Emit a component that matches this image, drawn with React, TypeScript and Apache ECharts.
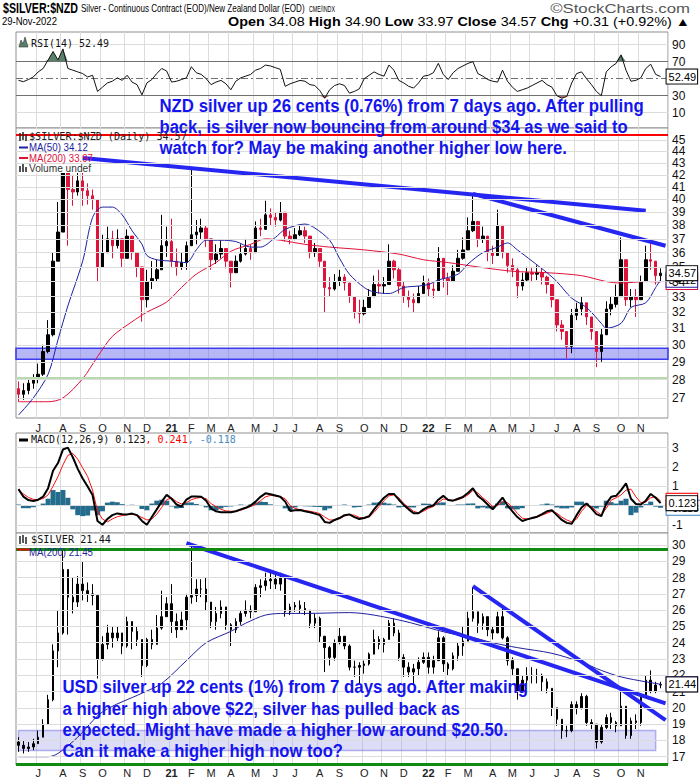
import React, { useEffect, useRef } from "react";
import * as echarts from "echarts";

// ---------- categories: one slot per trading week (Monday dates), plus one blank slot at the right edge ----------
const firstMonday = "2020-06-01";
const weekSlots = 132;

// ---------- NZD silver ($SILVER:$NZD) weekly values ----------
const nzdFirstOpen = 27.5;
const nzdClose = [
  27.2, 27.4, 27.8, 28.0, 28.3, 29.6, 30.6, 35.4, 37.5, 42.8,
  40.8, 40.6, 41.5, 40.7, 40.3, 40.0, 35.0, 36.0, 37.0, 36.5,
  37.0, 35.6, 37.2, 36.0, 35.0, 32.8, 34.0, 34.2, 34.8, 36.5,
  36.8, 35.4, 35.0, 35.3, 36.5, 37.3, 37.5, 37.8, 37.0, 35.5,
  35.9, 36.3, 35.4, 34.6, 35.4, 35.9, 36.3, 36.0, 37.8, 37.7,
  38.8, 38.6, 38.4, 39.0, 37.2, 37.0, 37.3, 37.6, 37.2, 36.0,
  36.3, 35.4, 33.6, 33.5, 34.0, 34.3, 33.9, 33.0, 32.0, 31.9,
  32.3, 33.0, 33.8, 33.7, 33.8, 35.4, 34.8, 33.7, 33.0, 32.8,
  32.6, 33.2, 33.9, 33.5, 33.4, 35.6, 34.2, 34.0, 34.7, 35.6,
  36.2, 37.6, 38.3, 37.0, 37.2, 36.0, 35.8, 38.0, 36.0, 35.1,
  34.8, 33.7, 34.1, 34.6, 34.5, 34.6, 34.3, 33.8, 32.8, 31.2,
  30.8, 29.9, 31.8, 32.2, 32.6, 31.7, 30.8, 29.6, 30.6, 32.2,
  32.5, 33.0, 35.5, 32.8, 33.0, 32.8, 34.0, 35.5, 35.4, 34.4,
  34.57,
];
const nzdHigh = [
  27.9, 27.8, 28.1, 28.3, 28.9, 30.0, 31.5, 36.0, 39.8, 44.6,
  43.5, 42.0, 42.5, 42.8, 41.3, 40.8, 39.5, 37.3, 37.9, 37.6,
  37.7, 36.5, 37.7, 37.0, 36.0, 34.5, 34.8, 35.4, 35.5, 38.8,
  37.9, 38.5, 36.3, 36.0, 36.8, 42.5, 38.4, 38.5, 38.0, 36.8,
  36.6, 36.9, 36.3, 35.4, 35.8, 36.6, 37.0, 36.6, 38.3, 38.5,
  39.9, 39.3, 39.0, 39.8, 38.6, 37.6, 37.8, 38.0, 37.9, 36.8,
  36.7, 36.0, 34.7, 34.3, 34.5, 34.8, 34.5, 33.7, 32.8, 32.8,
  32.8, 33.5, 34.4, 34.8, 34.3, 36.6, 35.5, 35.0, 34.0, 33.4,
  33.2, 33.7, 34.4, 34.2, 33.9, 36.4, 35.3, 34.6, 35.1, 36.2,
  37.1, 38.6, 40.3, 38.0, 37.9, 36.8, 36.5, 39.2, 37.5, 36.0,
  35.6, 35.0, 34.6, 35.0, 35.0, 35.1, 34.9, 34.4, 33.8, 32.0,
  31.5, 30.5, 32.2, 32.6, 33.0, 32.6, 31.5, 30.6, 31.0, 32.7,
  33.0, 33.8, 37.1, 35.4, 33.5, 33.5, 34.4, 36.5, 36.8, 35.3,
  34.9,
];
const nzdLow = [
  26.8, 26.9, 27.2, 27.5, 27.8, 28.2, 29.5, 30.5, 36.0, 37.5,
  36.5, 39.5, 40.3, 39.5, 39.6, 39.2, 34.0, 35.0, 36.2, 35.6,
  36.3, 35.0, 36.0, 35.5, 34.3, 31.4, 32.3, 33.5, 34.0, 35.0,
  35.7, 35.0, 34.4, 34.8, 34.8, 36.5, 36.6, 37.0, 36.4, 34.8,
  35.2, 35.6, 34.9, 33.6, 34.6, 35.3, 35.8, 35.5, 36.8, 37.2,
  38.2, 38.0, 37.9, 38.3, 36.8, 36.6, 36.9, 37.2, 36.7, 35.6,
  35.7, 35.0, 32.0, 33.0, 33.4, 33.7, 33.4, 32.6, 31.6, 31.3,
  31.8, 32.5, 33.2, 33.2, 33.2, 34.6, 34.2, 33.2, 32.6, 32.3,
  32.0, 32.6, 33.4, 33.0, 32.9, 33.8, 33.6, 33.1, 34.0, 35.0,
  35.5, 36.8, 37.5, 36.4, 36.7, 35.4, 35.2, 36.8, 35.6, 34.6,
  34.3, 32.9, 33.4, 34.0, 34.0, 34.1, 33.8, 33.2, 32.3, 30.8,
  30.3, 29.2, 29.5, 31.5, 31.8, 31.2, 30.3, 28.7, 29.0, 31.2,
  31.8, 32.3, 33.2, 32.4, 32.3, 31.7, 33.0, 34.3, 34.8, 33.8,
  33.97,
];
// moving averages read at selected weeks: [week index, value]
const nzdMa50 = [
  [0, 26.1], [3, 27.0], [6, 28.3], [8, 30.3], [10, 32.4], [13, 35.4], [15, 38.6], [17, 39.4], [19, 39.4],
  [21, 38.8], [23, 37.6], [25, 36.6], [26, 35.8], [28, 35.5], [31, 35.4], [34, 35.3], [36, 36.2], [38, 36.9],
  [41, 36.9], [44, 36.8], [47, 36.4], [49, 36.4], [52, 37.1], [54, 37.7], [58, 38.1], [60, 37.8], [63, 36.9],
  [65, 35.6], [67, 34.5], [70, 33.6], [72, 33.3], [75, 33.2], [78, 33.6], [81, 33.7], [83, 33.8], [85, 34.1],
  [89, 34.5], [91, 35.2], [94, 36.0], [97, 36.4], [99, 36.7], [101, 36.2], [104, 35.4], [107, 34.6], [109, 34.0],
  [112, 32.9], [115, 32.3], [118, 31.3], [119, 31.0], [122, 31.3], [124, 32.3], [127, 32.6], [129, 33.6], [130, 34.12],
];
const nzdMa200 = [
  [0, 26.8], [6, 26.8], [9, 27.0], [13, 28.05], [16, 29.3], [19, 30.5], [23, 31.4], [26, 32.0], [30, 32.65],
  [33, 33.6], [36, 34.5], [40, 35.3], [43, 36.1], [47, 36.6], [50, 37.0], [53, 36.9], [58, 36.6], [63, 36.4],
  [70, 36.2], [77, 35.9], [82, 35.5], [87, 35.3], [93, 35.0], [100, 34.7], [107, 34.6], [114, 34.4], [119, 34.0],
  [122, 33.9], [127, 34.0], [130, 33.97],
];
const nzdTrendA = [[13, 43.42], [127, 39.12]];
const nzdTrendB = [[92, 40.44], [131, 36.5]];
const nzdTicks = [27, 28, 29, 30, 31, 32, 33, 34, 35, 36, 37, 38, 39, 40, 41, 42, 43, 44, 45];
const nzdBand = [29.15, 29.8];
const nzdGreenLevel = 28.1;
const nzdRedLevel = 45.45;

// ---------- RSI(14) ----------
const rsi = [
  48, 46.5, 49, 52, 58, 62, 72, 82, 72, 85,
  62, 60, 58, 56, 52, 54, 35, 40, 45, 47,
  51, 48, 54, 46, 43, 31, 45, 49, 56, 62,
  59, 46, 47, 49, 51, 64, 57, 55, 50, 43,
  46, 48, 44, 37, 47, 51, 53, 55, 60, 62,
  66, 65, 63, 61, 41, 44, 46, 48, 47, 43,
  42, 36, 27, 37, 42, 44, 42, 33, 35, 38,
  50, 54, 58, 55, 53, 66, 60, 48, 45, 41,
  39, 45, 53, 54, 57, 68, 55, 49, 57, 62,
  65, 68, 70, 56, 53, 49, 47, 46, 60, 47,
  40, 35, 37, 39, 42, 45, 48, 43, 40, 30,
  27, 29, 45, 56, 58, 50, 43, 35, 30, 58,
  64, 68, 78, 60, 47, 48, 51, 62, 67, 55,
  52.49,
];
const rsiTicks = [90, 70, 50, 30, 10];

// ---------- MACD(12,26,9) ----------
const macd = [
  0.85, 0.46, 0.28, 0.23, 0.3, 0.46, 0.9, 1.8, 2.2, 2.9,
  3.0, 2.5, 1.9, 1.4, 0.98, 0.54, -0.8, -1.0, -0.7, -0.5,
  -0.41, -0.45, -0.46, -0.42, -0.5, -0.8, -1.0, -0.6, -0.2, 0.2,
  0.55, 0.35, 0.05, -0.05, 0.3, 0.46, 0.46, 0.45, 0.25, -0.15,
  -0.3, -0.35, -0.35, -0.35, -0.3, -0.2, -0.12, 0.0, 0.2, 0.45,
  0.63, 0.58, 0.52, 0.45, 0.2, -0.28, -0.25, -0.23, -0.3, -0.35,
  -0.42, -0.5, -0.85, -0.9, -0.75, -0.65, -0.5, -0.46, -0.6, -0.7,
  -0.65, -0.55, -0.2, 0.11, 0.4, 0.6, 0.6, 0.3, 0.03, -0.2,
  -0.4, -0.4, -0.2, -0.06, 0.0, 0.3, 0.5, 0.28, 0.25, 0.35,
  0.45, 0.65, 0.89, 0.5, 0.3, 0.05, -0.2, 0.1, 0.41, 0.0,
  -0.3, -0.6, -0.8, -0.72, -0.65, -0.58, -0.45, -0.3, -0.25, -0.5,
  -0.75, -0.9, -0.95, -0.5, -0.1, 0.1, -0.15, -0.45, -0.55, 0.1,
  0.45, 0.5, 0.8, 1.15, 0.35, 0.08, 0.05, 0.25, 0.6, 0.4,
  0.123,
];
const macdSignal = [
  0.8, 0.6, 0.42, 0.32, 0.3, 0.36, 0.55, 1.0, 1.5, 2.1,
  2.6, 2.7, 2.4, 1.95, 1.5, 0.8, -0.3, -0.7, -0.85, -0.7,
  -0.58, -0.52, -0.48, -0.46, -0.5, -0.62, -0.75, -0.7, -0.45, -0.1,
  0.3, 0.4, 0.2, 0.08, 0.15, 0.3, 0.38, 0.42, 0.35, 0.1,
  -0.06, -0.2, -0.28, -0.3, -0.3, -0.25, -0.15, -0.05, 0.05, 0.25,
  0.45, 0.52, 0.5, 0.46, 0.35, 0.0, -0.15, -0.22, -0.26, -0.3,
  -0.35, -0.42, -0.6, -0.75, -0.75, -0.68, -0.55, -0.48, -0.5, -0.62,
  -0.65, -0.6, -0.35, -0.05, 0.25, 0.5, 0.55, 0.4, 0.1, -0.1,
  -0.3, -0.38, -0.3, -0.15, -0.05, 0.15, 0.34, 0.3, 0.26, 0.3,
  0.4, 0.55, 0.78, 0.65, 0.4, 0.2, -0.05, 0.0, 0.2, 0.15,
  -0.1, -0.4, -0.66, -0.7, -0.66, -0.6, -0.5, -0.4, -0.3, -0.4,
  -0.6, -0.75, -0.85, -0.7, -0.3, 0.0, -0.05, -0.3, -0.49, -0.15,
  0.28, 0.4, 0.55, 0.8, 0.85, 0.45, 0.15, 0.18, 0.4, 0.46,
  0.241,
];
const macdTicks = [3, 2, 1, 0, -1];

// ---------- USD silver ($SILVER) weekly values ----------
const usdFirstOpen = 17.9;
const usdClose = [
  17.7, 17.5, 17.6, 17.8, 18.2, 19.0, 20.5, 23.5, 24.6, 28.5,
  26.8, 26.5, 27.6, 27.2, 27.0, 26.9, 23.0, 23.9, 24.6, 24.3,
  24.6, 23.8, 25.3, 24.7, 24.2, 22.6, 24.2, 23.9, 24.9, 25.6,
  26.4, 25.3, 24.8, 25.4, 26.8, 26.9, 27.3, 27.3, 26.5, 25.3,
  25.8, 26.2, 25.1, 24.8, 25.3, 25.8, 26.0, 25.9, 27.4, 27.5,
  27.8, 27.9, 27.6, 28.0, 25.9, 26.2, 26.3, 26.1, 26.0, 25.2,
  25.5, 24.4, 23.7, 23.1, 24.0, 24.4, 23.8, 22.5, 22.5, 22.6,
  22.7, 23.3, 24.2, 23.9, 24.2, 25.2, 24.6, 23.1, 22.5, 22.2,
  22.4, 22.8, 23.1, 22.5, 22.9, 24.3, 22.7, 22.4, 23.2, 23.8,
  24.1, 25.5, 25.9, 25.2, 25.6, 24.8, 24.6, 25.6, 24.3, 22.9,
  22.4, 21.0, 21.7, 22.0, 22.0, 22.0, 21.6, 21.2, 20.0, 19.3,
  18.6, 18.6, 20.2, 20.0, 20.7, 19.1, 19.0, 17.9, 18.8, 19.4,
  19.1, 18.9, 20.1, 18.3, 19.2, 19.1, 20.8, 21.7, 21.0, 21.4,
  21.44,
];
const usdHigh = [
  18.2, 18.0, 17.9, 18.1, 18.6, 19.3, 20.8, 23.9, 26.0, 29.8,
  28.5, 28.0, 28.1, 29.0, 27.7, 27.6, 26.6, 24.4, 25.1, 25.0,
  25.0, 24.6, 25.6, 25.3, 25.0, 24.2, 24.3, 24.8, 25.7, 27.2,
  26.8, 27.6, 25.8, 25.9, 27.0, 30.1, 27.9, 27.9, 28.0, 26.5,
  26.2, 26.6, 26.2, 25.2, 25.5, 26.0, 26.6, 26.3, 27.6, 27.9,
  28.3, 28.3, 28.2, 28.3, 28.0, 26.4, 26.5, 26.6, 26.5, 25.9,
  25.8, 25.6, 24.0, 23.8, 24.2, 24.9, 24.4, 23.9, 22.9, 22.8,
  22.9, 23.4, 24.8, 24.4, 24.3, 25.4, 25.5, 24.8, 23.3, 22.8,
  22.7, 23.1, 23.4, 23.4, 23.2, 24.7, 24.4, 22.8, 23.4, 24.0,
  25.0, 25.9, 27.4, 25.9, 25.8, 25.6, 25.0, 25.9, 26.2, 24.4,
  23.1, 22.3, 22.0, 22.5, 22.5, 22.4, 22.1, 21.8, 21.1, 19.9,
  19.2, 18.9, 20.4, 20.4, 20.9, 20.8, 19.3, 18.9, 19.0, 19.6,
  19.7, 19.2, 21.2, 20.0, 19.4, 19.6, 20.9, 22.0, 22.3, 21.6,
  21.6,
];
const usdLow = [
  17.3, 17.2, 17.3, 17.4, 17.8, 18.2, 19.1, 20.4, 22.5, 24.5,
  24.5, 25.8, 26.2, 26.6, 26.5, 26.3, 21.8, 22.9, 23.6, 23.7,
  24.1, 23.3, 23.7, 23.6, 23.8, 21.9, 22.5, 23.6, 24.0, 24.8,
  25.6, 24.6, 24.3, 24.8, 24.8, 26.4, 26.5, 26.8, 26.0, 24.9,
  24.8, 25.5, 24.8, 23.8, 24.6, 25.1, 25.6, 25.5, 26.0, 26.8,
  27.2, 27.3, 27.3, 27.2, 25.6, 25.7, 25.9, 25.8, 25.7, 24.9,
  24.9, 24.0, 22.2, 22.6, 22.9, 23.9, 23.6, 22.3, 21.9, 21.5,
  22.1, 22.6, 23.4, 23.6, 23.4, 24.3, 24.4, 22.9, 21.9, 21.9,
  21.4, 22.0, 22.7, 22.1, 22.1, 22.9, 22.2, 22.0, 22.3, 22.9,
  23.2, 24.1, 25.3, 24.6, 24.8, 24.4, 24.2, 24.6, 24.2, 22.6,
  22.0, 20.5, 21.0, 21.5, 21.5, 21.5, 21.0, 20.9, 19.5, 18.9,
  18.1, 18.2, 18.5, 19.6, 19.9, 18.9, 18.7, 17.5, 17.8, 18.7,
  18.7, 18.5, 19.0, 18.1, 18.1, 18.7, 18.9, 20.9, 20.9, 20.9,
  21.2,
];
const usdMa200 = [
  [0, 17.0], [6, 17.0], [8, 17.2], [12, 18.2], [17, 19.75], [25, 20.9], [29, 21.5], [34, 22.9], [38, 24.0],
  [43, 24.7], [46, 25.2], [50, 25.7], [54, 25.8], [58, 25.8], [67, 25.85], [77, 25.4], [87, 24.6], [91, 24.4],
  [96, 24.0], [101, 23.7], [108, 23.35], [114, 22.8], [118, 22.3], [122, 21.9], [127, 21.6], [130, 21.45],
];
const usdTrendC = [[34, 30.11], [131, 20.28]];
const usdTrendD = [[92, 27.48], [131, 19.24]];
const usdTicks = [17, 18, 19, 20, 21, 22, 23, 24, 25, 26, 27, 28, 29, 30];
const usdBand = [17.38, 18.61];
const usdGreenTop = 29.75;
const usdGreenBottom = 16.52;

// ---------- texts ----------
const noteNzd = [
  "NZD silver up 26 cents (0.76%) from 7 days ago. After pulling",
  "back, is silver now bouncing from around $34 as we said to",
  "watch for? May be making another higher low here.",
];
const noteUsd = [
  "USD silver up 22 cents (1%) from 7 days ago. After making",
  "a higher high above $22, silver has pulled back as",
  "expected. Might have made a higher low around $20.50.",
  "Can it make a higher high now too?",
];
const quoteLine: [string, boolean][] = [
  ["Open", true], [" 34.08 ", false], ["High", true], [" 34.90 ", false], ["Low", true], [" 33.97 ", false],
  ["Close", true], [" 34.57 ", false], ["Chg", true], [" +0.31 (+0.92%) \u25B2", false],
];
const monthLetters = "JFMAMJJASOND";

const sans = '"Liberation Sans", Arial, Helvetica, sans-serif';
const mono = '"DejaVu Sans Mono", "Liberation Mono", monospace';

// ---------- helpers ----------
const DAY = 86400000;
const weekDates: string[] = [];
{
  const t0 = Date.parse(firstMonday + "T00:00:00Z");
  for (let i = 0; i < weekSlots; i++) weekDates.push(new Date(t0 + i * 7 * DAY).toISOString().slice(0, 10));
}
const lastDataWeek = nzdClose.length - 1;
const thursday = (ds: string) => new Date(Date.parse(ds + "T00:00:00Z") + 3 * DAY);
// the last week holds only 28-29 Nov, so it does not open a new month
const monthStart = weekDates.map(
  (d, i) => i > 0 && i < lastDataWeek && thursday(d).getUTCMonth() !== thursday(weekDates[i - 1]).getUTCMonth()
);
const monthLabel = (ds: string) => {
  const t = thursday(ds);
  const m = t.getUTCMonth();
  return m === 0 ? `{y|${String(t.getUTCFullYear()).slice(2)}}` : monthLetters[m];
};

const ohlc = (close: number[], high: number[], low: number[], firstOpen: number) =>
  close.map((c, i) => {
    const o = i === 0 ? firstOpen : close[i - 1];
    return [o, c, Math.min(low[i], o, c), Math.max(high[i], o, c)];
  });

let measureCtx: CanvasRenderingContext2D | null = null;
const tw = (text: string, font: string) => {
  if (!measureCtx) measureCtx = document.createElement("canvas").getContext("2d");
  measureCtx!.font = font;
  return measureCtx!.measureText(text).width;
};

const fitText = (x: number, y: number, text: string, font: string, width: number, fill: string, align = "left", z = 20) => ({
  type: "text",
  x,
  y,
  z,
  scaleX: width / tw(text, font),
  silent: true,
  style: { text, font, fill, align, verticalAlign: "middle", textAlign: align, textVerticalAlign: "middle" },
});

const fitRich = (x: number, y: number, segs: { t: string; font: string; fill: string }[], width: number, align = "left", z = 20) => {
  const rich: any = {};
  let total = 0;
  const text = segs
    .map((s, i) => {
      rich["s" + i] = { font: s.font, fill: s.fill };
      total += tw(s.t, s.font);
      return `{s${i}|${s.t}}`;
    })
    .join("");
  return {
    type: "text",
    x,
    y,
    z,
    scaleX: width / total,
    silent: true,
    style: { text, rich, align, verticalAlign: "middle", textAlign: align, textVerticalAlign: "middle" },
  };
};

const tickMarks = (ticks: number[], special: (v: number) => any = () => ({})) =>
  ticks.map((v) => ({
    yAxis: v,
    lineStyle: { color: "#dcdcdc", width: 1, type: "solid", ...special(v) },
    label: { show: true, position: "end", formatter: String(v), distance: 4, color: "#111", fontSize: 12, fontFamily: sans },
  }));

const valueBox = (border: string, decimals: number) => ({
  show: true,
  distance: 6,
  formatter: (p: any) => Number(Array.isArray(p.value) ? p.value[1] : p.value).toFixed(decimals),
  backgroundColor: "#fff",
  borderColor: border,
  borderWidth: 1,
  padding: [2, 1, 1, 2],
  color: "#000",
  fontSize: 11,
  fontFamily: sans,
});

const plainLine = (xi: number, data: any, color: string, width: number, extra: any = {}) => ({
  type: "line",
  xAxisIndex: xi,
  yAxisIndex: xi,
  data,
  symbol: "none",
  silent: true,
  lineStyle: { color, width },
  ...extra,
});

export default function App() {
  const ref = useRef<HTMLDivElement>(null);

  useEffect(() => {
    if (!ref.current) return;
    const chart = echarts.init(ref.current, null, { renderer: "svg" });

    const gridBox = { left: 16, width: 652, show: true, backgroundColor: "#fff", borderColor: "#8e8e8e", borderWidth: 1 };
    const xAxisFor = (gridIndex: number, showLabels: boolean, margin: number) => ({
      type: "category",
      gridIndex,
      data: weekDates,
      boundaryGap: true,
      axisLine: { show: false },
      axisTick: { show: false },
      axisLabel: {
        show: showLabels,
        interval: (i: number) => monthStart[i],
        formatter: (v: string) => monthLabel(v),
        fontSize: 11,
        fontFamily: sans,
        color: "#222",
        margin,
        rich: { y: { fontWeight: "bold", fontSize: 11, fontFamily: sans, color: "#222" } },
      },
      splitLine: { show: true, interval: (i: number) => monthStart[i], lineStyle: { color: "#dcdcdc", width: 1 } },
    });
    const hiddenY = { axisLabel: { show: false }, splitLine: { show: false }, axisLine: { show: false }, axisTick: { show: false } };

    const hist = macd.map((v, i) => +(v - macdSignal[i]).toFixed(3));

    const series: any[] = [
      // ----- RSI -----
      plainLine(0, rsi.map(() => 70), "transparent", 0, { stack: "hi", lineStyle: { opacity: 0 } }),
      plainLine(0, rsi.map((v) => Math.max(v - 70, 0)), "transparent", 0, {
        stack: "hi",
        lineStyle: { opacity: 0 },
        areaStyle: { color: "#5a7f6a", opacity: 1 },
      }),
      plainLine(0, rsi.map((v) => Math.min(v, 30)), "transparent", 0, { stack: "lo", lineStyle: { opacity: 0 } }),
      plainLine(0, rsi.map((v) => 30 - Math.min(v, 30)), "transparent", 0, {
        stack: "lo",
        lineStyle: { opacity: 0 },
        areaStyle: { color: "#b07272", opacity: 1 },
      }),
      plainLine(0, rsi, "#111", 1, {
        z: 5,
        endLabel: valueBox("#000", 2),
        markLine: {
          silent: true,
          symbol: ["none", "none"],
          data: tickMarks(rsiTicks, (v) =>
            v === 70 || v === 30 ? { color: "#707070" } : v === 50 ? { color: "#707070", type: [7, 3, 2, 3] } : {}
          ),
        },
      }),

      // ----- NZD price -----
      {
        type: "candlestick",
        xAxisIndex: 1,
        yAxisIndex: 1,
        data: ohlc(nzdClose, nzdHigh, nzdLow, nzdFirstOpen),
        barWidth: 3,
        silent: true,
        itemStyle: { color: "#000", color0: "#dc143c", borderColor: "#000", borderColor0: "#dc143c", borderWidth: 1 },
        markLine: {
          silent: true,
          symbol: ["none", "none"],
          data: [
            ...tickMarks(nzdTicks),
            { yAxis: nzdGreenLevel, lineStyle: { color: "#b9d9b0", width: 2, type: "solid" }, label: { show: false } },
          ],
        },
        markArea: {
          silent: true,
          itemStyle: { color: "rgba(95,95,235,0.45)", borderColor: "#3c3cf0", borderWidth: 1.5 },
          data: [[{ yAxis: nzdBand[1] }, { yAxis: nzdBand[0] }]],
        },
      },
      plainLine(1, nzdMa200, "#e0103a", 1, { smooth: 0.3, z: 3, endLabel: valueBox("#e0103a", 2) }),
      plainLine(1, nzdMa50, "#1c22a0", 1, { smooth: 0.3, z: 3, endLabel: valueBox("#1c22a0", 2) }),
      plainLine(1, nzdTrendA, "#2626f2", 4, {
        z: 4,
        markLine: {
          silent: true,
          symbol: ["none", "none"],
          data: [{ yAxis: nzdRedLevel, lineStyle: { color: "#ff0000", width: 2, type: "solid" }, label: { show: false } }],
        },
      }),
      plainLine(1, nzdTrendB, "#2626f2", 4, { z: 4 }),
      plainLine(1, nzdClose, "transparent", 0, { z: 8, lineStyle: { opacity: 0 }, endLabel: valueBox("#000", 2) }),

      // ----- MACD -----
      {
        type: "bar",
        xAxisIndex: 2,
        yAxisIndex: 2,
        data: hist,
        barWidth: 5,
        silent: true,
        itemStyle: { color: "#236c8e" },
      },
      plainLine(2, hist, "transparent", 0, { z: 5, lineStyle: { opacity: 0 }, endLabel: valueBox("#3d7fc0", 3) }),
      plainLine(2, macdSignal, "#ff1010", 1, { z: 6, endLabel: valueBox("#ff0000", 3) }),
      plainLine(2, macd, "#000", 2, {
        z: 7,
        endLabel: valueBox("#000", 3),
        markLine: { silent: true, symbol: ["none", "none"], data: tickMarks(macdTicks) },
      }),

      // ----- USD price -----
      {
        type: "candlestick",
        xAxisIndex: 3,
        yAxisIndex: 3,
        data: ohlc(usdClose, usdHigh, usdLow, usdFirstOpen),
        barWidth: 2,
        silent: true,
        itemStyle: { color: "#000", color0: "#000", borderColor: "#000", borderColor0: "#000", borderWidth: 1 },
        markLine: {
          silent: true,
          symbol: ["none", "none"],
          data: [
            ...tickMarks(usdTicks),
            { yAxis: usdGreenTop, lineStyle: { color: "#118a11", width: 3, type: "solid" }, label: { show: false } },
            { yAxis: usdGreenBottom, lineStyle: { color: "#118a11", width: 3, type: "solid" }, label: { show: false } },
          ],
        },
        markArea: {
          silent: true,
          itemStyle: { color: "rgba(150,150,232,0.32)", borderColor: "rgba(120,120,225,0.55)", borderWidth: 1.5 },
          data: [[{ xAxis: 0, yAxis: usdBand[1] }, { xAxis: 129, yAxis: usdBand[0] }]],
        },
      },
      plainLine(3, usdMa200, "#1f1f9c", 1, { smooth: 0.3, z: 3, endLabel: valueBox("#1f1f9c", 2) }),
      plainLine(3, usdTrendC, "#2626f2", 4, { z: 4 }),
      plainLine(3, usdTrendD, "#2626f2", 4, { z: 4 }),
      plainLine(3, usdClose, "transparent", 0, { z: 8, lineStyle: { opacity: 0 }, endLabel: valueBox("#000", 2) }),
    ];

    // ----- texts drawn on top -----
    const noteFont = `bold 18px ${sans}`;
    const noteColor = "#1414ee";
    const nzdRight = [645, 628, 567];
    const nzdY = [106, 127, 148];
    const usdRight = [529, 460, 508, 343];
    const usdY = [687, 709, 730, 751];
    const legend10 = `10px ${sans}`;
    const mono10 = `10px ${mono}`;

    const elements: any[] = [
      // header
      fitText(3, 8, "$SILVER:$NZD", `bold 14px ${sans}`, 75, "#000"),
      fitText(81, 8.5, "Silver - Continuous Contract (EOD)/New Zealand Dollar (EOD)", `11px ${sans}`, 224, "#000"),
      fitText(309, 9, "CME/INDX", `9px ${sans}`, 26, "#000"),
      fitText(690, 8.5, "\u00A9StockCharts.com", `12px ${sans}`, 140, "#555", "right"),
      fitText(2, 21.5, "29-Nov-2022", `11px ${sans}`, 55, "#000"),
      fitRich(
        690,
        21.5,
        quoteLine.map(([t, b]) => ({ t, font: `${b ? "bold " : ""}12px ${sans}`, fill: "#000" })),
        462,
        "right"
      ),

      // RSI legend
      { type: "polygon", z: 20, silent: true, shape: { points: [[19, 47], [21, 40], [23, 44], [25, 37], [28, 47]] }, style: { fill: "#5a7f6a", stroke: "#333", lineWidth: 0.6 } },
      fitText(31, 43, "RSI(14) 52.49", mono10, 78, "#111"),

      // NZD legend
      { type: "rect", z: 3, silent: true, shape: { x: 17, y: 129, width: 78, height: 44 }, style: { fill: "#fff" } },
      { type: "line", z: 20, silent: true, shape: { x1: 20, y1: 133, x2: 20, y2: 141 }, style: { stroke: "#222", lineWidth: 1.5 } },
      { type: "line", z: 20, silent: true, shape: { x1: 23, y1: 132, x2: 23, y2: 140 }, style: { stroke: "#222", lineWidth: 1.5 } },
      { type: "line", z: 20, silent: true, shape: { x1: 26, y1: 134, x2: 26, y2: 141 }, style: { stroke: "#222", lineWidth: 1.5 } },
      fitText(29, 136.5, "$SILVER:$NZD (Daily) 34.57", mono10, 158, "#222"),
      { type: "line", z: 20, silent: true, shape: { x1: 19, y1: 147.5, x2: 28, y2: 147.5 }, style: { stroke: "#1c22a0", lineWidth: 2 } },
      fitText(29, 147.5, "MA(50) 34.12", legend10, 59, "#1c22a0"),
      { type: "line", z: 20, silent: true, shape: { x1: 19, y1: 158, x2: 28, y2: 158 }, style: { stroke: "#e0103a", lineWidth: 2 } },
      fitText(29, 158, "MA(200) 33.97", legend10, 64, "#e0103a"),
      { type: "rect", z: 20, silent: true, shape: { x: 19, y: 166, width: 2, height: 6 }, style: { fill: "#555" } },
      { type: "rect", z: 20, silent: true, shape: { x: 22, y: 164, width: 2, height: 8 }, style: { fill: "#555" } },
      { type: "rect", z: 20, silent: true, shape: { x: 25, y: 167, width: 2, height: 5 }, style: { fill: "#555" } },
      fitText(29, 168.5, "Volume undef", legend10, 62, "#333"),

      // MACD legend
      { type: "line", z: 20, silent: true, shape: { x1: 19, y1: 440, x2: 28, y2: 440 }, style: { stroke: "#000", lineWidth: 3 } },
      fitRich(
        31,
        440,
        [
          { t: "MACD(12,26,9) 0.123", font: mono10, fill: "#111" },
          { t: ", 0.241", font: mono10, fill: "#ff0000" },
          { t: ", -0.118", font: mono10, fill: "#4a8cc4" },
        ],
        205
      ),

      // USD legend
      { type: "line", z: 20, silent: true, shape: { x1: 20, y1: 536, x2: 20, y2: 544 }, style: { stroke: "#222", lineWidth: 1.5 } },
      { type: "line", z: 20, silent: true, shape: { x1: 23, y1: 535, x2: 23, y2: 543 }, style: { stroke: "#222", lineWidth: 1.5 } },
      { type: "line", z: 20, silent: true, shape: { x1: 26, y1: 537, x2: 26, y2: 544 }, style: { stroke: "#222", lineWidth: 1.5 } },
      fitText(31, 540, "$SILVER 21.44", mono10, 80, "#111"),
      { type: "line", z: 21, silent: true, shape: { x1: 17, y1: 549.5, x2: 30, y2: 549.5 }, style: { stroke: "#e01010", lineWidth: 2 } },
      fitText(29, 552, "MA(200) 21.45", legend10, 64, "#1f1f9c"),

      // annotations
      ...noteNzd.map((t, i) => fitText(159.5, nzdY[i], t, noteFont, nzdRight[i] - 159.5, noteColor, "left", 30)),
      ...noteUsd.map((t, i) => fitText(62.5, usdY[i], t, noteFont, usdRight[i] - 62.5, noteColor, "left", 30)),
    ];

    chart.setOption({
      animation: false,
      backgroundColor: "#fff",
      grid: [
        { ...gridBox, top: 32, height: 96 },
        { ...gridBox, top: 128, height: 290 },
        { ...gridBox, top: 433, height: 100 },
        { ...gridBox, top: 533, height: 232 },
      ],
      xAxis: [xAxisFor(0, false, 4), xAxisFor(1, true, 4), xAxisFor(2, false, 4), xAxisFor(3, true, 2)],
      yAxis: [
        { type: "value", gridIndex: 0, min: -8, max: 104.9, ...hiddenY },
        { type: "log", logBase: 10, gridIndex: 1, min: 25.95, max: 46.08, ...hiddenY },
        { type: "value", gridIndex: 2, min: -1.425, max: 3.757, ...hiddenY },
        { type: "value", gridIndex: 3, min: 16.49, max: 30.74, ...hiddenY },
      ],
      series,
      graphic: { elements },
    });

    return () => chart.dispose();
  }, []);

  return (
    <div
      ref={ref}
      style={{ position: "fixed", left: 0, top: 0, width: 700, height: 780, background: "#fff" }}
    />
  );
}
